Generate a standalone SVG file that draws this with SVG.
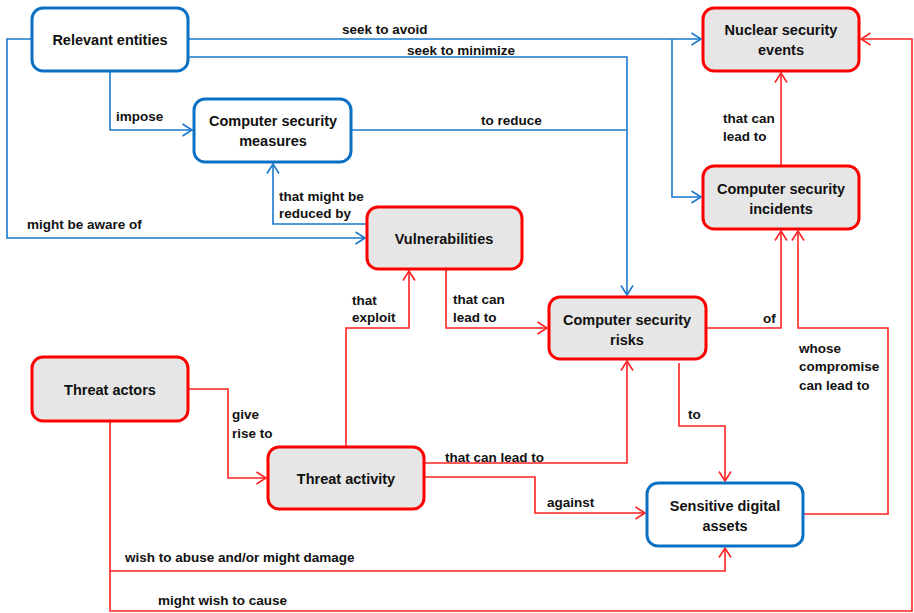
<svg xmlns="http://www.w3.org/2000/svg" width="914" height="613" viewBox="0 0 914 613">
<style>
.nb{fill:#fff;stroke:#0A70C4;stroke-width:3}
.nr{fill:#E6E6E6;stroke:#F00;stroke-width:3}
.t{font-family:"Liberation Sans",Arial,sans-serif;font-weight:bold;font-size:14.5px;fill:#111;text-anchor:middle}
.l{font-family:"Liberation Sans",Arial,sans-serif;font-weight:bold;font-size:13.5px;fill:#111}
.cb{fill:none;stroke:#1A78CC;stroke-width:1.6;marker-end:url(#ab)}
.cr{fill:none;stroke:#F22;stroke-width:1.6;marker-end:url(#ar)}
.cbn{fill:none;stroke:#1A78CC;stroke-width:1.6}
.crn{fill:none;stroke:#F22;stroke-width:1.6}
</style>
<defs>
<marker id="ab" markerUnits="userSpaceOnUse" markerWidth="12" markerHeight="14" viewBox="0 0 12 14" refX="10.5" refY="7" orient="auto"><path d="M1,1 L10.5,7 L1,13" fill="none" stroke="#1A78CC" stroke-width="1.6"/></marker>
<marker id="ar" markerUnits="userSpaceOnUse" markerWidth="12" markerHeight="14" viewBox="0 0 12 14" refX="10.5" refY="7" orient="auto"><path d="M1,1 L10.5,7 L1,13" fill="none" stroke="#F22" stroke-width="1.6"/></marker>
</defs>
<g id="connectors">
<path class="cb" d="M187,39 H701"/>
<path class="cb" d="M672,39 V197 H701"/>
<path class="cb" d="M187,57 H627 V295"/>
<path class="cbn" d="M351,130 H627"/>
<path class="cb" d="M110,71 V130 H192"/>
<path class="cb" d="M32,39 H7 V238 H365"/>
<path class="cb" d="M367,224 H273 V164"/>
<path class="cr" d="M781,166 V73"/>
<path class="cr" d="M706,328 H781 V231"/>
<path class="cr" d="M803,514 H888 V328 H798 V231"/>
<path class="cr" d="M446,269 V328 H547"/>
<path class="cr" d="M346,447 V328 H409 V271"/>
<path class="cr" d="M424,463 H627 V361"/>
<path class="cr" d="M679,363 V426 H725 V481"/>
<path class="cr" d="M424,477 H535 V513 H645"/>
<path class="cr" d="M188,389 H228 V478 H266"/>
<path class="cr" d="M110,421 V571 H725 V548"/>
<path class="cr" d="M110,571 V611 H912 V39 H861"/>
<text class="l" x="342" y="34">seek to avoid</text>
<text class="l" x="407" y="55">seek to minimize</text>
<text class="l" x="116" y="121">impose</text>
<text class="l" x="481" y="125">to reduce</text>
<text class="l" x="279" y="201">that might be</text>
<text class="l" x="279" y="218">reduced by</text>
<text class="l" x="27" y="229">might be aware of</text>
<text class="l" x="723" y="123">that can</text>
<text class="l" x="723" y="141">lead to</text>
<text class="l" x="352" y="305">that</text>
<text class="l" x="352" y="322">exploit</text>
<text class="l" x="453" y="304">that can</text>
<text class="l" x="453" y="322">lead to</text>
<text class="l" x="763" y="323">of</text>
<text class="l" x="799" y="353">whose</text>
<text class="l" x="799" y="371">compromise</text>
<text class="l" x="799" y="390">can lead to</text>
<text class="l" x="688" y="419">to</text>
<text class="l" x="232" y="419">give</text>
<text class="l" x="232" y="438">rise to</text>
<text class="l" x="445" y="462">that can lead to</text>
<text class="l" x="547" y="507">against</text>
<text class="l" x="125" y="562">wish to abuse and/or might damage</text>
<text class="l" x="158" y="605">might wish to cause</text>
</g>
<g id="relevant-entities"><rect class="nb" x="32" y="8" width="156" height="63" rx="11"/><text class="t" x="110" y="45">Relevant entities</text></g>
<g id="computer-security-measures"><rect class="nb" x="194" y="99" width="157" height="63" rx="11"/><text class="t" x="273" y="126">Computer security</text><text class="t" x="273" y="146">measures</text></g>
<g id="vulnerabilities"><rect class="nr" x="367" y="207" width="155" height="62" rx="11"/><text class="t" x="444" y="244">Vulnerabilities</text></g>
<g id="nuclear-security-events"><rect class="nr" x="703" y="8" width="156" height="63" rx="11"/><text class="t" x="781" y="35">Nuclear security</text><text class="t" x="781" y="55">events</text></g>
<g id="computer-security-incidents"><rect class="nr" x="703" y="166" width="156" height="63" rx="11"/><text class="t" x="781" y="194">Computer security</text><text class="t" x="781" y="214">incidents</text></g>
<g id="computer-security-risks"><rect class="nr" x="549" y="297" width="157" height="62" rx="11"/><text class="t" x="627" y="325">Computer security</text><text class="t" x="627" y="345">risks</text></g>
<g id="threat-actors"><rect class="nr" x="32" y="357" width="156" height="64" rx="11"/><text class="t" x="110" y="395">Threat actors</text></g>
<g id="threat-activity"><rect class="nr" x="268" y="447" width="156" height="62" rx="11"/><text class="t" x="346" y="484">Threat activity</text></g>
<g id="sensitive-digital-assets"><rect class="nb" x="647" y="483" width="156" height="63" rx="11"/><text class="t" x="725" y="511">Sensitive digital</text><text class="t" x="725" y="531">assets</text></g>
</svg>
